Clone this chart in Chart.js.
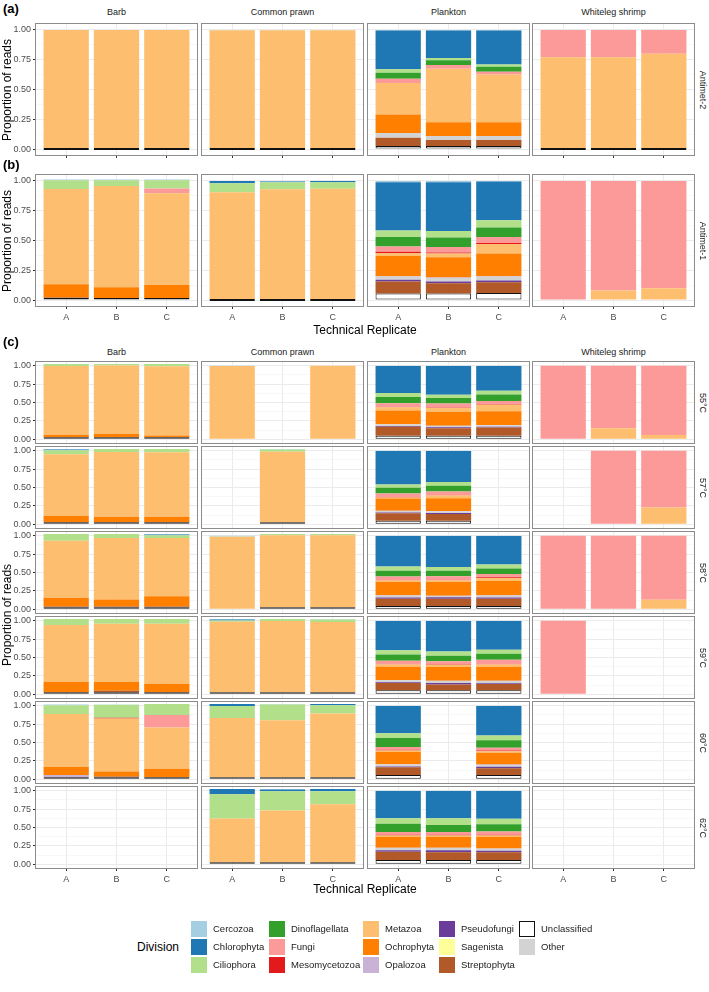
<!DOCTYPE html>
<html>
<head>
<meta charset="utf-8">
<script src="https://cdn.jsdelivr.net/npm/chart.js@4.4.1/dist/chart.umd.min.js"></script>
<style>
  body { margin: 0; background: #fff; font-family: "Liberation Sans", Arial, sans-serif; }
  #fig { position: relative; width: 709px; height: 992px; overflow: hidden; background: #fff; }
  #fig canvas { position: absolute; }
  .txt { position: absolute; white-space: nowrap; line-height: 1; color: #1a1a1a; transform: translate(-50%, -50%); }
  .key { position: absolute; width: 16px; height: 16px; box-sizing: border-box; }
</style>
</head>
<body>
<div id="fig"></div>
<script>
// ---- data ----
const samples = ["Barb", "Common prawn", "Plankton", "Whiteleg shrimp"];
const replicates = ["A", "B", "C"];
const temperatures = ["55°C", "57°C", "58°C", "59°C", "60°C", "62°C"];

// bottom of each stacked bar first
const stackOrder = ["Unclassified", "Streptophyta", "Sagenista", "Pseudofungi", "Other", "Opalozoa",
    "Ochrophyta", "Metazoa", "Mesomycetozoa", "Fungi", "Dinoflagellata", "Ciliophora", "Chlorophyta", "Cercozoa"];
const legendOrder = ["Cercozoa", "Chlorophyta", "Ciliophora", "Dinoflagellata", "Fungi", "Mesomycetozoa",
    "Metazoa", "Ochrophyta", "Opalozoa", "Pseudofungi", "Sagenista", "Streptophyta", "Unclassified", "Other"];
const divisionColors = {
    Cercozoa: "#a6cee3", Chlorophyta: "#1f78b4", Ciliophora: "#b2df8a", Dinoflagellata: "#33a02c",
    Fungi: "#fb9a99", Mesomycetozoa: "#e31a1c", Metazoa: "#fdbf6f", Ochrophyta: "#ff7f00",
    Opalozoa: "#cab2d6", Pseudofungi: "#6a3d9a", Sagenista: "#ffff99", Streptophyta: "#b15928",
    Unclassified: "#ffffff", Other: "#d3d3d3"
};

// proportion of reads per replicate [A, B, C]; null = no bar
const antimet2 = {
    "Barb": { Unclassified: [0, 0, 0], Metazoa: [1, 1, 1] },
    "Common prawn": { Unclassified: [0, 0, 0], Metazoa: [0.997, 0.997, 0.997], Cercozoa: [0.003, 0.003, 0.003] },
    "Plankton": {
        Unclassified: [0.025, 0.025, 0.025], Streptophyta: [0.07, 0.05, 0.05], Other: [0.04, 0.035, 0.035],
        Ochrophyta: [0.155, 0.115, 0.115], Metazoa: [0.265, 0.45, 0.40], Fungi: [0.035, 0.03, 0.025],
        Dinoflagellata: [0.05, 0.04, 0.04], Ciliophora: [0.03, 0.02, 0.02], Chlorophyta: [0.325, 0.23, 0.285],
        Cercozoa: [0.005, 0.005, 0.005]
    },
    "Whiteleg shrimp": { Unclassified: [0, 0, 0], Metazoa: [0.77, 0.77, 0.80], Fungi: [0.23, 0.23, 0.20] }
};

const antimet1 = {
    "Barb": {
        Unclassified: [0.005, 0.005, 0.005], Streptophyta: [0.005, 0, 0], Ochrophyta: [0.11, 0.09, 0.11],
        Metazoa: [0.80, 0.85, 0.77], Fungi: [0, 0, 0.04], Ciliophora: [0.075, 0.05, 0.07], Cercozoa: [0.005, 0.005, 0.005]
    },
    "Common prawn": {
        Unclassified: [0, 0, 0], Metazoa: [0.905, 0.93, 0.935], Ciliophora: [0.075, 0.06, 0.055],
        Chlorophyta: [0.02, 0.005, 0.01], Cercozoa: [0, 0.005, 0]
    },
    "Plankton": {
        Unclassified: [0.055, 0.055, 0.06], Streptophyta: [0.10, 0.085, 0.09], Pseudofungi: [0.015, 0.015, 0.015],
        Other: [0.025, 0.03, 0.03], Opalozoa: [0.005, 0.005, 0.005], Ochrophyta: [0.17, 0.17, 0.19],
        Metazoa: [0.025, 0.03, 0.08], Mesomycetozoa: [0.01, 0.01, 0.01], Fungi: [0.045, 0.045, 0.05],
        Dinoflagellata: [0.08, 0.08, 0.08], Ciliophora: [0.055, 0.055, 0.06], Chlorophyta: [0.405, 0.41, 0.325],
        Cercozoa: [0.01, 0.01, 0.005]
    },
    "Whiteleg shrimp": { Metazoa: [0, 0.08, 0.10], Fungi: [1, 0.92, 0.90] }
};

const temp55 = {
    "Barb": {
        Unclassified: [0.005, 0.005, 0.005], Streptophyta: [0.005, 0.005, 0.005], Ochrophyta: [0.03, 0.045, 0.02],
        Metazoa: [0.935, 0.925, 0.94], Ciliophora: [0.025, 0.02, 0.03]
    },
    "Common prawn": { Metazoa: [0.995, null, 1], Cercozoa: [0.005, null, 0] },
    "Plankton": {
        Unclassified: [0.05, 0.05, 0.05], Streptophyta: [0.12, 0.10, 0.11], Pseudofungi: [0.01, 0.015, 0.01],
        Other: [0.02, 0.015, 0.02], Opalozoa: [0.005, 0.005, 0.005], Ochrophyta: [0.185, 0.19, 0.185],
        Metazoa: [0.045, 0.05, 0.09], Mesomycetozoa: [0.005, 0.005, 0.005], Fungi: [0.05, 0.055, 0.045],
        Dinoflagellata: [0.085, 0.075, 0.09], Ciliophora: [0.055, 0.045, 0.05], Chlorophyta: [0.365, 0.39, 0.335],
        Cercozoa: [0.005, 0.005, 0.005]
    },
    "Whiteleg shrimp": { Metazoa: [0, 0.15, 0.06], Fungi: [1, 0.85, 0.94] }
};

const temp57 = {
    "Barb": {
        Unclassified: [0.005, 0.005, 0.005], Streptophyta: [0.005, 0.005, 0.005], Ochrophyta: [0.08, 0.07, 0.07],
        Metazoa: [0.84, 0.88, 0.875], Ciliophora: [0.055, 0.04, 0.045], Chlorophyta: [0.01, 0, 0], Cercozoa: [0.005, 0, 0]
    },
    "Common prawn": {
        Unclassified: [null, 0.005, null], Metazoa: [null, 0.96, null], Ciliophora: [null, 0.03, null],
        Cercozoa: [null, 0.005, null]
    },
    "Plankton": {
        Unclassified: [0.05, 0.05, null], Streptophyta: [0.10, 0.09, null], Pseudofungi: [0.01, 0.015, null],
        Other: [0.02, 0.02, null], Opalozoa: [0.005, 0.005, null], Ochrophyta: [0.165, 0.175, null],
        Metazoa: [0.015, 0.035, null], Mesomycetozoa: [0.005, 0.005, null], Fungi: [0.05, 0.05, null],
        Dinoflagellata: [0.075, 0.08, null], Ciliophora: [0.045, 0.05, null], Chlorophyta: [0.455, 0.42, null],
        Cercozoa: [0.005, 0.005, null]
    },
    "Whiteleg shrimp": { Metazoa: [null, 0, 0.23], Fungi: [null, 1, 0.77] }
};

const temp58 = {
    "Barb": {
        Unclassified: [0.005, 0.005, 0.005], Streptophyta: [0.01, 0.01, 0.01], Ochrophyta: [0.115, 0.095, 0.14],
        Metazoa: [0.78, 0.835, 0.79], Ciliophora: [0.09, 0.055, 0.04], Chlorophyta: [0, 0, 0.01], Cercozoa: [0, 0, 0.005]
    },
    "Common prawn": {
        Unclassified: [null, 0.005, 0.005], Metazoa: [0.985, 0.98, 0.98], Ciliophora: [0.005, 0.015, 0.015],
        Cercozoa: [0.01, 0, 0]
    },
    "Plankton": {
        Unclassified: [0.045, 0.045, 0.045], Streptophyta: [0.10, 0.10, 0.10], Pseudofungi: [0.015, 0.02, 0.015],
        Other: [0.025, 0.015, 0.025], Opalozoa: [0.005, 0.005, 0.005], Ochrophyta: [0.18, 0.185, 0.195],
        Metazoa: [0.02, 0.02, 0.04], Mesomycetozoa: [0.005, 0.005, 0.01], Fungi: [0.05, 0.055, 0.045],
        Dinoflagellata: [0.08, 0.075, 0.075], Ciliophora: [0.055, 0.05, 0.055], Chlorophyta: [0.415, 0.42, 0.385],
        Cercozoa: [0.005, 0.005, 0.005]
    },
    "Whiteleg shrimp": { Metazoa: [0, 0, 0.13], Fungi: [1, 1, 0.87] }
};

const temp59 = {
    "Barb": {
        Unclassified: [0.005, 0.005, 0.005], Streptophyta: [0.005, 0.02, 0.005], Ochrophyta: [0.14, 0.12, 0.11],
        Metazoa: [0.77, 0.79, 0.815], Ciliophora: [0.08, 0.065, 0.065]
    },
    "Common prawn": {
        Unclassified: [0.005, 0.005, 0.005], Metazoa: [0.96, 0.97, 0.955], Ciliophora: [0.015, 0.025, 0.035],
        Chlorophyta: [0.015, 0, 0], Cercozoa: [0.005, 0, 0.005]
    },
    "Plankton": {
        Unclassified: [0.055, 0.055, 0.055], Streptophyta: [0.10, 0.08, 0.085], Pseudofungi: [0.01, 0.02, 0.01],
        Other: [0.025, 0.025, 0.03], Opalozoa: [0.005, 0.005, 0.005], Ochrophyta: [0.18, 0.185, 0.185],
        Metazoa: [0.03, 0.03, 0.035], Mesomycetozoa: [0.005, 0.01, 0.005], Fungi: [0.045, 0.04, 0.06],
        Dinoflagellata: [0.085, 0.075, 0.08], Ciliophora: [0.06, 0.055, 0.055], Chlorophyta: [0.395, 0.415, 0.39],
        Cercozoa: [0.005, 0.005, 0.005]
    },
    "Whiteleg shrimp": { Fungi: [1, null, null] }
};

const temp60 = {
    "Barb": {
        Unclassified: [0.01, 0.01, 0.005], Streptophyta: [0.005, 0.01, 0.005], Opalozoa: [0.025, 0, 0],
        Ochrophyta: [0.11, 0.07, 0.11], Metazoa: [0.72, 0.72, 0.56], Mesomycetozoa: [0, 0.01, 0],
        Fungi: [0, 0, 0.17], Ciliophora: [0.12, 0.175, 0.15], Cercozoa: [0.01, 0.005, 0]
    },
    "Common prawn": {
        Unclassified: [0.005, 0.005, 0.005], Metazoa: [0.805, 0.775, 0.865], Ciliophora: [0.165, 0.215, 0.115],
        Chlorophyta: [0.025, 0, 0.015], Cercozoa: [0, 0.005, 0]
    },
    "Plankton": {
        Unclassified: [0.06, null, 0.06], Streptophyta: [0.105, null, 0.09], Pseudofungi: [0.01, null, 0.02],
        Other: [0.025, null, 0.025], Opalozoa: [0.005, null, 0.005], Ochrophyta: [0.165, null, 0.16],
        Metazoa: [0.02, null, 0.02], Mesomycetozoa: [0.01, null, 0.01], Fungi: [0.04, null, 0.04],
        Dinoflagellata: [0.12, null, 0.10], Ciliophora: [0.065, null, 0.065], Chlorophyta: [0.37, null, 0.40],
        Cercozoa: [0.005, null, 0.005]
    },
    "Whiteleg shrimp": {}
};

const temp62 = {
    "Barb": {},
    "Common prawn": {
        Unclassified: [0.005, 0.005, 0.005], Metazoa: [0.595, 0.705, 0.79], Ciliophora: [0.33, 0.26, 0.175],
        Chlorophyta: [0.07, 0.025, 0.03], Cercozoa: [0, 0.005, 0]
    },
    "Plankton": {
        Unclassified: [0.06, 0.06, 0.06], Streptophyta: [0.11, 0.105, 0.105], Pseudofungi: [0.02, 0.025, 0.02],
        Other: [0.03, 0.03, 0.025], Opalozoa: [0.005, 0.005, 0.005], Ochrophyta: [0.145, 0.145, 0.155],
        Metazoa: [0.02, 0.02, 0.02], Mesomycetozoa: [0.01, 0.01, 0.01], Fungi: [0.04, 0.04, 0.045],
        Dinoflagellata: [0.11, 0.095, 0.10], Ciliophora: [0.075, 0.09, 0.075], Chlorophyta: [0.37, 0.37, 0.375],
        Cercozoa: [0.005, 0.005, 0.005]
    },
    "Whiteleg shrimp": {}
};

// ---- layout ----
const fig = document.getElementById("fig");
const colLeft = [36, 202, 368, 533];
const panelWidth = 161;
const yAxisWidth = 36;
const yTicks = [0, 0.125, 0.25, 0.375, 0.5, 0.625, 0.75, 0.875, 1];

Chart.defaults.font.family = '"Liberation Sans", Arial, sans-serif';
Chart.defaults.font.size = 9;
Chart.defaults.color = "#4d4d4d";

const isMajor = (v) => Math.abs(v * 4 - Math.round(v * 4)) < 1e-6;

const panelBorder = {
    id: "panelBorder",
    afterDraw(chart) {
        const { ctx, chartArea } = chart;
        ctx.save();
        ctx.strokeStyle = "#8c8c8c";
        ctx.lineWidth = 1;
        ctx.strokeRect(chartArea.left - 0.5, chartArea.top - 0.5,
            chartArea.right - chartArea.left + 1, chartArea.bottom - chartArea.top + 1);
        ctx.restore();
    }
};

function addText(text, x, y, style) {
    const el = document.createElement("div");
    el.className = "txt";
    el.textContent = text;
    el.style.left = x + "px";
    el.style.top = y + "px";
    Object.assign(el.style, style || {});
    fig.appendChild(el);
    return el;
}

/**
 * one facet panel: 3 stacked bars
 * bottom: "labels" | "ticks" | "none"
 */
function drawFacet(facet, left, top, height, showY, bottom) {
    const padLeft = showY ? yAxisWidth : 1;
    const padTop = 6;
    const axisHeight = bottom === "labels" ? 17 : 6;

    const canvas = document.createElement("canvas");
    canvas.width = padLeft + panelWidth + 1;
    canvas.height = padTop + height + axisHeight;
    canvas.style.left = (left - padLeft) + "px";
    canvas.style.top = (top - padTop) + "px";
    fig.appendChild(canvas);

    const datasets = stackOrder.map((name) => {
        const values = facet[name] || [null, null, null];
        const unclassified = name === "Unclassified";
        return {
            label: name,
            data: replicates.map((r, i) => ({ x: i + 1, y: values[i] })),
            backgroundColor: divisionColors[name],
            borderColor: "#111",
            borderWidth: unclassified ? 1 : 0,
            borderSkipped: false,
            minBarLength: unclassified ? 2 : 0,
            categoryPercentage: 0.9,
            barPercentage: 1
        };
    });

    new Chart(canvas, {
        type: "bar",
        data: { datasets: datasets },
        plugins: [panelBorder],
        options: {
            responsive: false,
            animation: false,
            devicePixelRatio: 1,
            layout: { padding: { top: padTop, right: 1 } },
            plugins: { legend: { display: false }, tooltip: { enabled: false } },
            scales: {
                x: {
                    type: "linear",
                    stacked: true,
                    offset: false,
                    min: 0.4,
                    max: 3.6,
                    afterBuildTicks: (s) => { s.ticks = [1, 2, 3].map((v) => ({ value: v })); },
                    afterFit: (s) => { s.height = axisHeight; s.paddingLeft = 0; s.paddingRight = 0; },
                    border: { display: false },
                    grid: {
                        offset: false,
                        color: "#ebebeb",
                        lineWidth: 1,
                        drawTicks: bottom !== "none",
                        tickLength: 3,
                        tickWidth: 1,
                        tickColor: "#333333"
                    },
                    ticks: {
                        display: bottom === "labels",
                        autoSkip: false,
                        maxRotation: 0,
                        padding: 3,
                        color: "#4d4d4d",
                        callback: (v) => replicates[v - 1]
                    }
                },
                y: {
                    type: "linear",
                    stacked: true,
                    min: -0.05,
                    max: 1.05,
                    afterBuildTicks: (s) => { s.ticks = yTicks.map((v) => ({ value: v })); },
                    afterFit: (s) => { s.width = padLeft; s.paddingTop = 0; s.paddingBottom = 0; },
                    border: { display: false },
                    grid: {
                        color: (c) => (c.tick && isMajor(c.tick.value)) ? "#ebebeb" : "#f4f4f4",
                        lineWidth: (c) => (c.tick && isMajor(c.tick.value)) ? 1 : 0.6,
                        drawTicks: showY,
                        tickLength: 3,
                        tickWidth: 1,
                        tickColor: (c) => (c.tick && isMajor(c.tick.value)) ? "#333333" : "rgba(0,0,0,0)"
                    },
                    ticks: {
                        display: showY,
                        autoSkip: false,
                        padding: 2,
                        color: "#4d4d4d",
                        callback: (v) => isMajor(v) ? v.toFixed(2) : ""
                    }
                }
            }
        }
    });
}

function drawRow(rowData, top, height, stripLabel, bottom) {
    samples.forEach((sample, c) => {
        drawFacet(rowData[sample], colLeft[c], top, height, c === 0, bottom);
    });
    addText(stripLabel, 702, top + height / 2, { fontSize: "9px", transform: "translate(-50%, -50%) rotate(90deg)" });
}

function drawStrips(y) {
    samples.forEach((sample, c) => addText(sample, colLeft[c] + panelWidth / 2, y, { fontSize: "9px" }));
}

const tagStyle = { fontSize: "13px", fontWeight: "bold", color: "#000", transform: "translate(0, -50%)" };
const titleStyle = { fontSize: "12px", color: "#000" };
const yTitleStyle = { fontSize: "12px", color: "#000", transform: "translate(-50%, -50%) rotate(-90deg)" };
const yTitleX = 7;

// (a) and (b)
addText("(a)", 3, 8, tagStyle);
drawStrips(12);
drawRow(antimet2, 24, 131, "Antimet-2", "ticks");
addText("Proportion of reads", yTitleX, 24 + 131 / 2, yTitleStyle);

addText("(b)", 3, 164, tagStyle);
drawRow(antimet1, 175, 131, "Antimet-1", "labels");
addText("Proportion of reads", yTitleX, 175 + 131 / 2, yTitleStyle);
addText("Technical Replicate", 365, 330, titleStyle);

// (c)
addText("(c)", 3, 341, tagStyle);
drawStrips(352);
const tempRows = [temp55, temp57, temp58, temp59, temp60, temp62];
const rowPitch = 85, rowHeight = 81, firstTop = 362;
tempRows.forEach((rowData, r) => {
    drawRow(rowData, firstTop + r * rowPitch, rowHeight, temperatures[r],
        r === tempRows.length - 1 ? "labels" : "none");
});
addText("Proportion of reads", yTitleX, firstTop + (5 * rowPitch + rowHeight) / 2, yTitleStyle);
addText("Technical Replicate", 365, 889, titleStyle);

// legend
addText("Division", 137, 947, { fontSize: "12px", color: "#000", transform: "translate(0, -50%)" });
const keyCols = [191, 269, 363, 439, 519];
const keyRows = [929, 947, 965];
legendOrder.forEach((name, i) => {
    const col = Math.floor(i / 3), row = i % 3;
    const key = document.createElement("div");
    key.className = "key";
    key.style.left = keyCols[col] + "px";
    key.style.top = (keyRows[row] - 8) + "px";
    key.style.background = divisionColors[name];
    if (name === "Unclassified") key.style.border = "1.5px solid #111";
    fig.appendChild(key);
    addText(name, keyCols[col] + 22, keyRows[row], { fontSize: "9.5px", transform: "translate(0, -50%)" });
});
</script>
</body>
</html>
